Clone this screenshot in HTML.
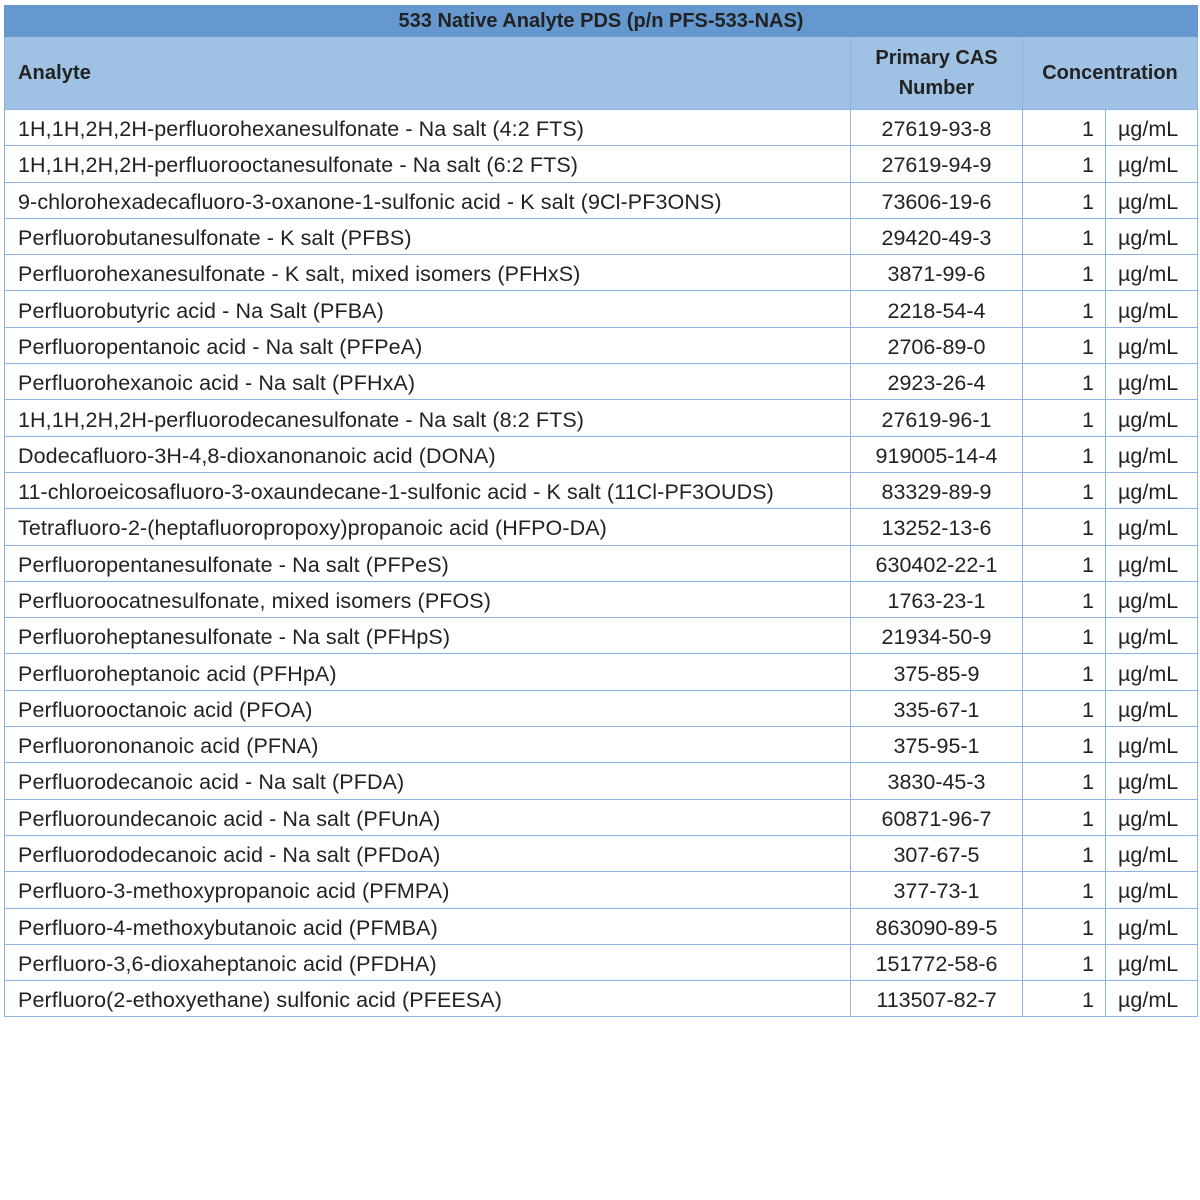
<!DOCTYPE html>
<html><head><style>
body{margin:0;background:#fff;width:1200px;height:1200px;overflow:hidden}
table{position:absolute;left:4px;top:5px;border-collapse:collapse;table-layout:fixed;width:1193px;font-family:"Liberation Sans",sans-serif;font-size:21.5px;color:#222}
td{border:1.5px solid #8db3e2;padding:4px 0 0 0;height:31.3px;white-space:nowrap;overflow:hidden}
.t td{background:#6598cf;height:30px;padding:0;text-align:center;font-weight:bold;font-size:20px;border-color:#6598cf}
.h td{background:#9ec1e4;height:72px;padding:0;font-weight:bold;font-size:20px}
td.a{padding-left:13px;letter-spacing:0.1px}
.c{text-align:center}
.n{text-align:right;padding-right:11px}
.u{padding-left:12px}
</style></head><body>
<table>
<colgroup><col style="width:846px"><col style="width:172px"><col style="width:83px"><col style="width:92px"></colgroup>
<tr class="t"><td colspan="4">533 Native Analyte PDS (p/n PFS-533-NAS)</td></tr>
<tr class="h"><td class="a">Analyte</td><td class="c" style="line-height:30px">Primary CAS<br>Number</td><td colspan="2" class="c">Concentration</td></tr>
<tr><td class="a">1H,1H,2H,2H-perfluorohexanesulfonate - Na salt (4:2 FTS)</td><td class="c">27619-93-8</td><td class="n">1</td><td class="u">µg/mL</td></tr>
<tr><td class="a">1H,1H,2H,2H-perfluorooctanesulfonate - Na salt (6:2 FTS)</td><td class="c">27619-94-9</td><td class="n">1</td><td class="u">µg/mL</td></tr>
<tr><td class="a">9-chlorohexadecafluoro-3-oxanone-1-sulfonic acid - K salt (9Cl-PF3ONS)</td><td class="c">73606-19-6</td><td class="n">1</td><td class="u">µg/mL</td></tr>
<tr><td class="a">Perfluorobutanesulfonate - K salt (PFBS)</td><td class="c">29420-49-3</td><td class="n">1</td><td class="u">µg/mL</td></tr>
<tr><td class="a">Perfluorohexanesulfonate - K salt, mixed isomers (PFHxS)</td><td class="c">3871-99-6</td><td class="n">1</td><td class="u">µg/mL</td></tr>
<tr><td class="a">Perfluorobutyric acid - Na Salt (PFBA)</td><td class="c">2218-54-4</td><td class="n">1</td><td class="u">µg/mL</td></tr>
<tr><td class="a">Perfluoropentanoic acid - Na salt (PFPeA)</td><td class="c">2706-89-0</td><td class="n">1</td><td class="u">µg/mL</td></tr>
<tr><td class="a">Perfluorohexanoic acid - Na salt (PFHxA)</td><td class="c">2923-26-4</td><td class="n">1</td><td class="u">µg/mL</td></tr>
<tr><td class="a">1H,1H,2H,2H-perfluorodecanesulfonate - Na salt (8:2 FTS)</td><td class="c">27619-96-1</td><td class="n">1</td><td class="u">µg/mL</td></tr>
<tr><td class="a">Dodecafluoro-3H-4,8-dioxanonanoic acid (DONA)</td><td class="c">919005-14-4</td><td class="n">1</td><td class="u">µg/mL</td></tr>
<tr><td class="a">11-chloroeicosafluoro-3-oxaundecane-1-sulfonic acid - K salt (11Cl-PF3OUDS)</td><td class="c">83329-89-9</td><td class="n">1</td><td class="u">µg/mL</td></tr>
<tr><td class="a">Tetrafluoro-2-(heptafluoropropoxy)propanoic acid (HFPO-DA)</td><td class="c">13252-13-6</td><td class="n">1</td><td class="u">µg/mL</td></tr>
<tr><td class="a">Perfluoropentanesulfonate - Na salt (PFPeS)</td><td class="c">630402-22-1</td><td class="n">1</td><td class="u">µg/mL</td></tr>
<tr><td class="a">Perfluoroocatnesulfonate, mixed isomers (PFOS)</td><td class="c">1763-23-1</td><td class="n">1</td><td class="u">µg/mL</td></tr>
<tr><td class="a">Perfluoroheptanesulfonate - Na salt (PFHpS)</td><td class="c">21934-50-9</td><td class="n">1</td><td class="u">µg/mL</td></tr>
<tr><td class="a">Perfluoroheptanoic acid (PFHpA)</td><td class="c">375-85-9</td><td class="n">1</td><td class="u">µg/mL</td></tr>
<tr><td class="a">Perfluorooctanoic acid (PFOA)</td><td class="c">335-67-1</td><td class="n">1</td><td class="u">µg/mL</td></tr>
<tr><td class="a">Perfluorononanoic acid (PFNA)</td><td class="c">375-95-1</td><td class="n">1</td><td class="u">µg/mL</td></tr>
<tr><td class="a">Perfluorodecanoic acid - Na salt (PFDA)</td><td class="c">3830-45-3</td><td class="n">1</td><td class="u">µg/mL</td></tr>
<tr><td class="a">Perfluoroundecanoic acid - Na salt (PFUnA)</td><td class="c">60871-96-7</td><td class="n">1</td><td class="u">µg/mL</td></tr>
<tr><td class="a">Perfluorododecanoic acid - Na salt (PFDoA)</td><td class="c">307-67-5</td><td class="n">1</td><td class="u">µg/mL</td></tr>
<tr><td class="a">Perfluoro-3-methoxypropanoic acid (PFMPA)</td><td class="c">377-73-1</td><td class="n">1</td><td class="u">µg/mL</td></tr>
<tr><td class="a">Perfluoro-4-methoxybutanoic acid (PFMBA)</td><td class="c">863090-89-5</td><td class="n">1</td><td class="u">µg/mL</td></tr>
<tr><td class="a">Perfluoro-3,6-dioxaheptanoic acid (PFDHA)</td><td class="c">151772-58-6</td><td class="n">1</td><td class="u">µg/mL</td></tr>
<tr><td class="a">Perfluoro(2-ethoxyethane) sulfonic acid (PFEESA)</td><td class="c">113507-82-7</td><td class="n">1</td><td class="u">µg/mL</td></tr>
</table>
</body></html>
